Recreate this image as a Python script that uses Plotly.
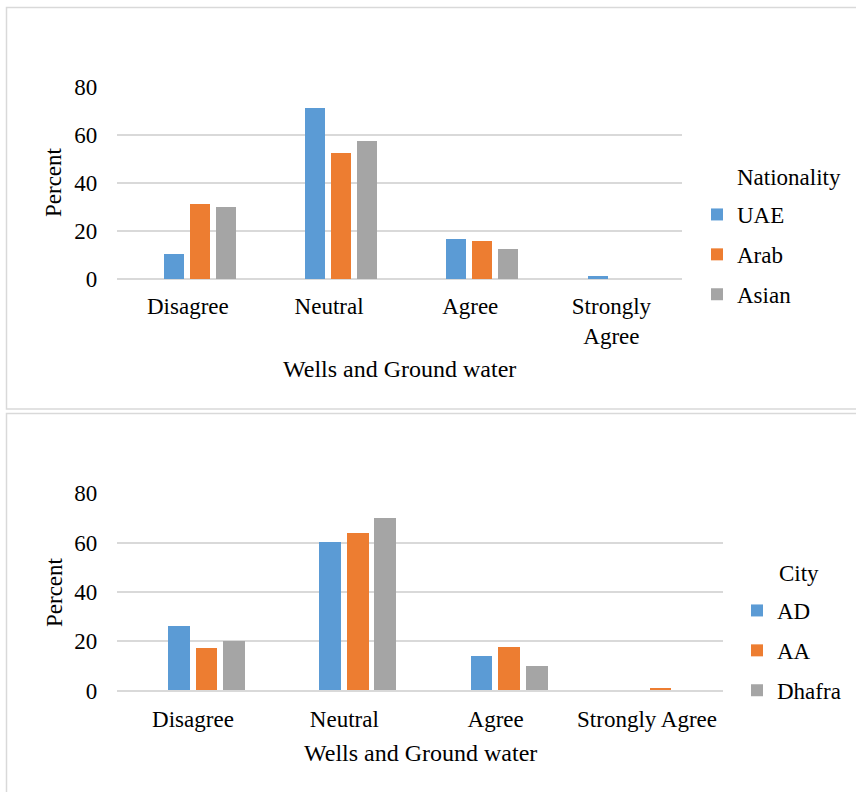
import plotly.graph_objects as go

categories = ["Disagree", "Neutral", "Agree", "Strongly Agree"]
top_tick_labels = ["Disagree", "Neutral", "Agree", "Strongly<br>Agree"]
bottom_tick_labels = ["Disagree", "Neutral", "Agree", "Strongly Agree"]

nationality_names = ["UAE", "Arab", "Asian"]
uae = [10.4, 71.2, 16.4, 1.0]
arab = [31.3, 52.5, 15.6, 0]
asian = [29.8, 57.3, 12.2, 0]

city_names = ["AD", "AA", "Dhafra"]
ad = [26.0, 60.0, 13.9, 0]
aa = [17.3, 63.6, 17.4, 1.1]
dhafra = [19.9, 69.9, 9.8, 0]

colors = ["#5B9BD5", "#ED7D31", "#A5A5A5"]
FONT = "Liberation Serif, Times New Roman, serif"
FS = 23
W, H = 856, 792

fig = go.Figure()

top_offsets = [-0.167, 0.015, 0.199]
for name, vals, c, off in zip(nationality_names, [uae, arab, asian], colors, top_offsets):
    fig.add_trace(go.Bar(x=categories, y=vals, name=name, marker=dict(color=c, line=dict(width=0)),
                         offset=off, width=0.1416, xaxis="x", yaxis="y",
                         legend="legend", legendgroup="t" + name))

bot_offsets = [-0.163, 0.020, 0.201]
for name, vals, c, off in zip(city_names, [ad, aa, dhafra], colors, bot_offsets):
    fig.add_trace(go.Bar(x=categories, y=vals, name=name, marker=dict(color=c, line=dict(width=0)),
                         offset=off, width=0.1435, xaxis="x2", yaxis="y2",
                         legend="legend2", legendgroup="b" + name))

def px_x(p):
    return p / W

def px_y(p):
    return 1 - p / H

grid = "#D9D9D9"
axfont = dict(family=FONT, size=FS, color="#000000")

fig.update_layout(
    template="none",
    width=W, height=H, margin=dict(l=0, r=0, t=0, b=0, pad=0, autoexpand=False),
    paper_bgcolor="white", plot_bgcolor="white",
    font=dict(family=FONT, size=FS, color="#000000"),
    showlegend=True,
    xaxis=dict(domain=[px_x(117.3), px_x(682)], anchor="y", type="category",
               categoryorder="array", categoryarray=categories,
               tickvals=categories, ticktext=top_tick_labels, automargin=False,
               showgrid=False, showline=False, zeroline=False, ticks="", tickfont=axfont,
               ticklabelstandoff=11),
    yaxis=dict(domain=[px_y(279), px_y(87.3)], anchor="x", range=[0, 80], dtick=20,
               showgrid=True, gridcolor=grid, gridwidth=1.5, automargin=False,
               zeroline=True, zerolinecolor=grid, zerolinewidth=1.5,
               showline=False, ticks="", tickfont=axfont, ticklabelstandoff=19),
    xaxis2=dict(domain=[px_x(117.3), px_x(722.7)], anchor="y2", type="category",
                categoryorder="array", categoryarray=categories,
                tickvals=categories, ticktext=bottom_tick_labels, automargin=False,
                showgrid=False, showline=False, zeroline=False, ticks="", tickfont=axfont,
                ticklabelstandoff=12),
    yaxis2=dict(domain=[px_y(690.7), px_y(493.3)], anchor="x2", range=[0, 80], dtick=20,
                showgrid=True, gridcolor=grid, gridwidth=1.5, automargin=False,
                zeroline=True, zerolinecolor=grid, zerolinewidth=1.5,
                showline=False, ticks="", tickfont=axfont, ticklabelstandoff=19),
    legend=dict(x=px_x(697), y=px_y(193), xanchor="left", yanchor="top",
                traceorder="grouped", tracegroupgap=7, font=axfont,
                bgcolor="rgba(0,0,0,0)", borderwidth=0),
    legend2=dict(x=px_x(737), y=px_y(589), xanchor="left", yanchor="top",
                 traceorder="grouped", tracegroupgap=7, font=axfont,
                 bgcolor="rgba(0,0,0,0)", borderwidth=0),
    bargap=0,
)

annotations = [
    dict(text="Nationality", x=px_x(735), y=px_y(177), xanchor="left", yanchor="middle"),
    dict(text="City", x=px_x(777), y=px_y(573), xanchor="left", yanchor="middle"),
    dict(text="Percent", x=px_x(54), y=px_y(182), xanchor="center", yanchor="middle", textangle=-90),
    dict(text="Percent", x=px_x(54), y=px_y(592), xanchor="center", yanchor="middle", textangle=-90),
    dict(text="Wells and Ground water", x=px_x(399), y=px_y(369), xanchor="center", yanchor="middle",
         font=dict(family=FONT, size=24, color="#000000")),
    dict(text="Wells and Ground water", x=px_x(420), y=px_y(753), xanchor="center", yanchor="middle",
         font=dict(family=FONT, size=24, color="#000000")),
]
for a in annotations:
    a.setdefault("font", axfont)
    a.update(xref="paper", yref="paper", showarrow=False)
fig.update_layout(annotations=annotations)

shapes = [
    dict(type="rect", x0=px_x(6.5), x1=px_x(870), y0=px_y(409), y1=px_y(7.5)),
    dict(type="rect", x0=px_x(6.5), x1=px_x(870), y0=px_y(805), y1=px_y(413.5)),
]
for s in shapes:
    s.update(xref="paper", yref="paper", line=dict(color="#D9D9D9", width=1.5), layer="below")
fig.update_layout(shapes=shapes)

fig.write_html("out.html", config={"displayModeBar": False},
               post_script="document.body.style.margin='0';document.body.style.overflow='hidden';")
